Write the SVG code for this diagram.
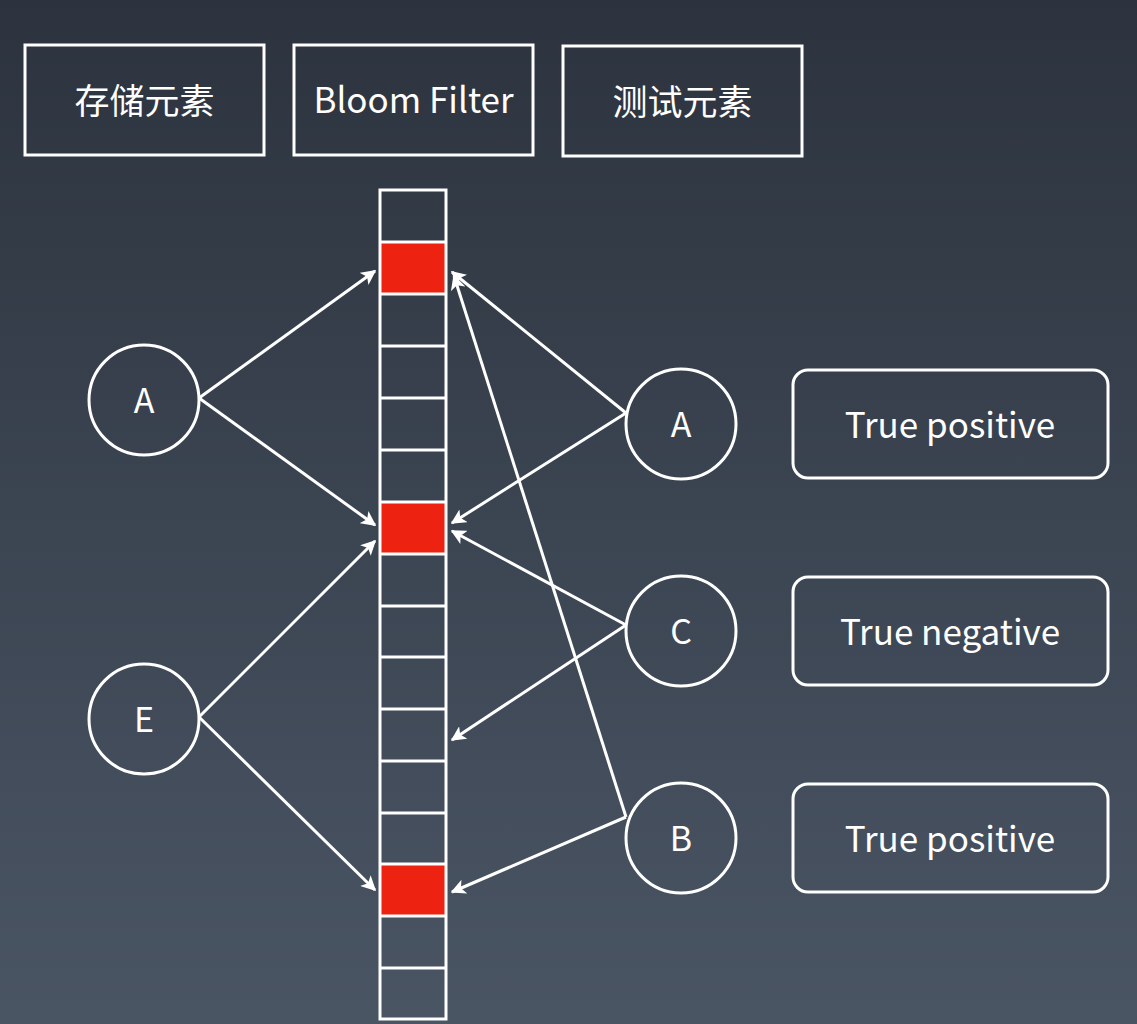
<svg xmlns="http://www.w3.org/2000/svg" width="1137" height="1024" viewBox="0 0 1137 1024">
<defs>
<linearGradient id="bg" x1="0" y1="0" x2="0" y2="1">
<stop offset="0" stop-color="#2c333e"/>
<stop offset="1" stop-color="#4a5564"/>
</linearGradient>
<marker id="ah" viewBox="0 0 10 10" refX="9" refY="5" markerWidth="5" markerHeight="5" markerUnits="strokeWidth" orient="auto">
<path d="M0,0 L10,5 L0,10 L2.5,5 Z" fill="#ffffff"/>
</marker>
<style>
.box{fill:none;stroke:#ffffff;stroke-width:3}
.cell{fill:none;stroke:#ffffff;stroke-width:3}
.red{fill:#ee2211}
.circ{fill:none;stroke:#ffffff;stroke-width:3}
.t{fill:#ffffff;font-family:"Noto Sans CJK SC","Noto Sans",sans-serif;font-size:35px;text-anchor:middle;dominant-baseline:central}
.z{fill:#ffffff;font-family:"Noto Sans CJK SC",sans-serif;font-size:35px;text-anchor:middle;dominant-baseline:central}
.c{fill:#ffffff;font-family:"Noto Sans CJK SC","Noto Sans",sans-serif;font-size:34px;text-anchor:middle;dominant-baseline:central}
.ln{stroke:#ffffff;stroke-width:3;fill:none;marker-end:url(#ah)}
</style>
</defs>
<rect x="0" y="0" width="1137" height="1024" fill="url(#bg)"/>
<g id="header-store"><rect class="box" x="25" y="45" width="239" height="110"/><text class="z" x="144.5" y="98">存储元素</text></g>
<g id="header-bloom"><rect class="box" x="294" y="45" width="239" height="110"/><text class="t" x="413.5" y="97">Bloom Filter</text></g>
<g id="header-test"><rect class="box" x="563" y="46" width="239" height="110"/><text class="z" x="682.5" y="99">测试元素</text></g>
<g id="bloom-array">
<rect class="red" x="381" y="243" width="64" height="50"/>
<rect class="red" x="381" y="503" width="64" height="50"/>
<rect class="red" x="381" y="865" width="64" height="50"/>
<rect class="cell" x="380" y="190" width="66" height="829"/>
<path stroke="#ffffff" stroke-width="3" d="M380,242H446M380,294H446M380,346H446M380,398H446M380,450H446M380,502H446M380,554H446M380,606H446M380,657H446M380,709H446M380,761H446M380,813H446M380,864H446M380,916H446M380,968H446"/>
</g>
<g id="store-A"><circle class="circ" cx="144" cy="400" r="55"/><text class="c" x="144" y="398">A</text></g>
<g id="store-E"><circle class="circ" cx="144" cy="719" r="55"/><text class="c" x="144" y="717">E</text></g>
<g id="test-A"><circle class="circ" cx="681" cy="424" r="55"/><text class="c" x="681" y="422">A</text></g>
<g id="test-C"><circle class="circ" cx="681" cy="631" r="55"/><text class="c" x="681" y="629">C</text></g>
<g id="test-B"><circle class="circ" cx="681" cy="838" r="55"/><text class="c" x="681" y="836">B</text></g>
<g id="result-1"><rect class="box" x="793" y="370" width="315" height="108" rx="15"/><text class="t" x="950" y="422">True positive</text></g>
<g id="result-2"><rect class="box" x="793" y="577" width="315" height="108" rx="15"/><text class="t" x="950" y="629">True negative</text></g>
<g id="result-3"><rect class="box" x="793" y="784" width="315" height="108" rx="15"/><text class="t" x="950" y="836">True positive</text></g>
<g id="connectors">
<line class="ln" x1="199" y1="398" x2="375" y2="271"/>
<line class="ln" x1="199" y1="398" x2="375" y2="525"/>
<line class="ln" x1="199" y1="717" x2="375" y2="541"/>
<line class="ln" x1="199" y1="717" x2="375" y2="890"/>
<line class="ln" x1="626" y1="413" x2="452" y2="272"/>
<line class="ln" x1="626" y1="413" x2="452" y2="523"/>
<line class="ln" x1="626" y1="625" x2="452" y2="531"/>
<line class="ln" x1="626" y1="625" x2="452" y2="740"/>
<line class="ln" x1="626" y1="817" x2="454" y2="276"/>
<line class="ln" x1="626" y1="817" x2="452" y2="892"/>
</g>
</svg>
